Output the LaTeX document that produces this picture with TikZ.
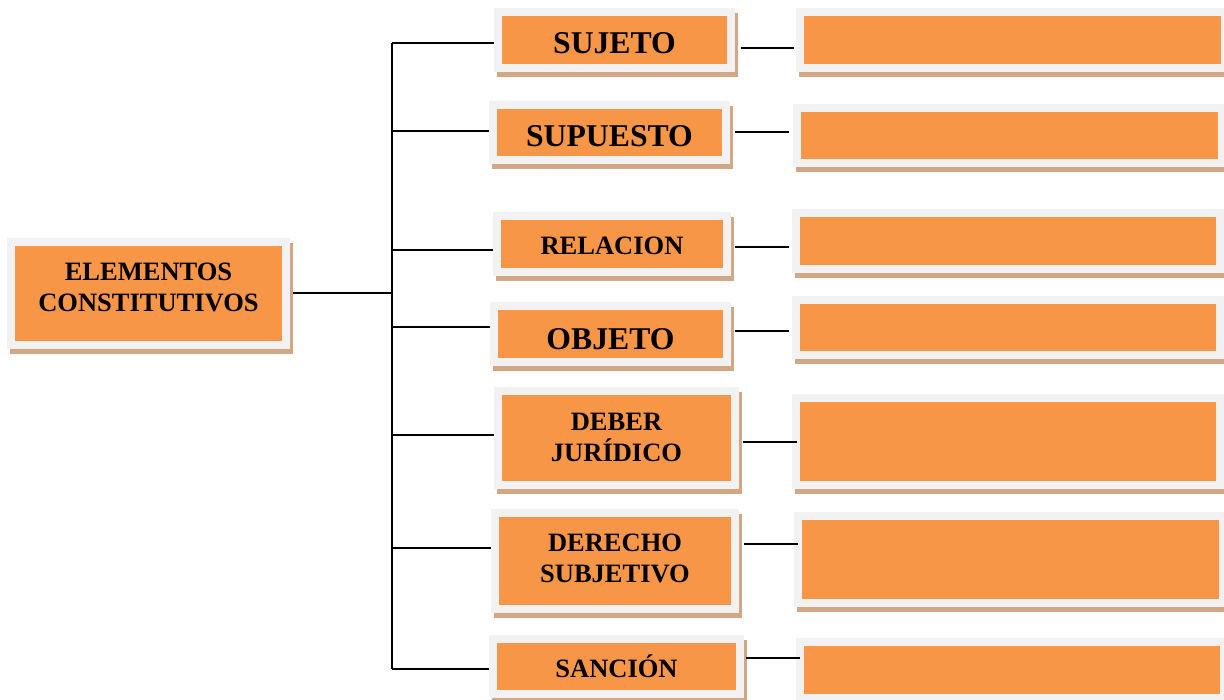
\documentclass[tikz,border=0pt]{standalone}
\usepackage{fontspec}
\setmainfont{Liberation Serif}
\usetikzlibrary{backgrounds}
\definecolor{orangec}{HTML}{F79646}
\definecolor{framec}{HTML}{F2F2F2}
\definecolor{shadowc}{HTML}{D3A684}
\tikzset{
  box/.style={draw=framec, fill=orangec, line width=8pt, inner sep=0pt, outer sep=0pt,
    preaction={draw=shadowc, fill=shadowc, line width=8pt,
      transform canvas={shift={(3pt,-5pt)}}}},
  bigt/.style={font=\fontsize{31.7}{36}\selectfont\bfseries, align=center, text=black},
  smallt/.style={font=\fontsize{26.5}{31}\selectfont\bfseries, align=center, text=black},
  conn/.style={draw=black, line width=1.4pt},
  mainconn/.style={draw=black, line width=2pt},
}
\begin{document}
\begin{tikzpicture}[x=1pt,y=-1pt]
\useasboundingbox (0,0) rectangle (1224,700);
% left column
\node[box,minimum width=275,minimum height=103,
  label={[smallt,yshift=6pt]center:ELEMENTOS\\CONSTITUTIVOS}] (main) at (148.5,293.5) {};
\node[box,minimum width=233,minimum height=56,
  label={[bigt,yshift=-3.5pt]center:SUJETO}] (sujeto) at (614.5,40) {};
\node[box,minimum width=233,minimum height=55,
  label={[bigt,yshift=-4pt]center:SUPUESTO}] (supuesto) at (609.5,132.5) {};
\node[box,minimum width=230,minimum height=56,
  label={[smallt,yshift=-2pt]center:RELACION}] (relacion) at (612,244) {};
\node[box,minimum width=233,minimum height=56,
  label={[bigt,yshift=-5pt]center:OBJETO}] (objeto) at (610.5,334) {};
\node[box,minimum width=237,minimum height=94,
  label={[smallt,yshift=1pt]center:DEBER\\JURÍDICO}] (deber) at (616.5,438) {};
\node[box,minimum width=240,minimum height=96,
  label={[smallt,yshift=3pt]center:DERECHO\\SUBJETIVO}] (derecho) at (615,561) {};
\node[box,minimum width=247,minimum height=55,
  label={[smallt]center:SANCIÓN}] (sancion) at (616.5,666.5) {};
% right column
\node[box,minimum width=425,minimum height=56] (r1) at (1012.5,40) {};
\node[box,minimum width=425,minimum height=55] (r2) at (1009.5,135.5) {};
\node[box,minimum width=424,minimum height=56] (r3) at (1008,241) {};
\node[box,minimum width=424,minimum height=55] (r4) at (1008,327.5) {};
\node[box,minimum width=424,minimum height=87] (r5) at (1008,441.5) {};
\node[box,minimum width=425,minimum height=87] (r6) at (1010.5,559.5) {};
\node[box,minimum width=424,minimum height=56] (r7) at (1012,670) {};
% trunk coordinates
\coordinate (t1) at (392,43);
\coordinate (t2) at (392,131);
\coordinate (t3) at (392,250);
\coordinate (t4) at (392,327);
\coordinate (t5) at (392,435);
\coordinate (t6) at (392,548);
\coordinate (t7) at (392,669);
\begin{scope}[on background layer]
  \draw[conn] (t1) -- (t7);
  \draw[mainconn] (main.east) -- (main.east -| t1);
  \draw[conn] (t1) -- (t1 -| sujeto.west);
  \draw[conn] (t2) -- (t2 -| supuesto.west);
  \draw[conn] (t3) -- (t3 -| relacion.west);
  \draw[conn] (t4) -- (t4 -| objeto.west);
  \draw[conn] (t5) -- (t5 -| deber.west);
  \draw[conn] (t6) -- (t6 -| derecho.west);
  \draw[conn] (t7) -- (t7 -| sancion.west);
\end{scope}
% right connectors
\draw[conn, shorten >=6pt] (sujeto.east) ++(10,8) coordinate (p1) -- (p1 -| r1.west);
\draw[conn, shorten >=8pt] (supuesto.east) ++(9,-0.5) coordinate (p2) -- (p2 -| r2.west);
\draw[conn, shorten >=7pt] (relacion.east) ++(8,3) coordinate (p3) -- (p3 -| r3.west);
\draw[conn, shorten >=7pt] (objeto.east) ++(8,-3) coordinate (p4) -- (p4 -| r4.west);
\draw[conn, shorten >=-1pt] (deber.east) ++(8,4) coordinate (p5) -- (p5 -| r5.west);
\draw[conn] (derecho.east) ++(9,-17) coordinate (p6) -- (p6 -| r6.west);
\draw[conn] (sancion.east) ++(6,-8.5) coordinate (p7) -- (p7 -| r7.west);
\end{tikzpicture}
\end{document}
